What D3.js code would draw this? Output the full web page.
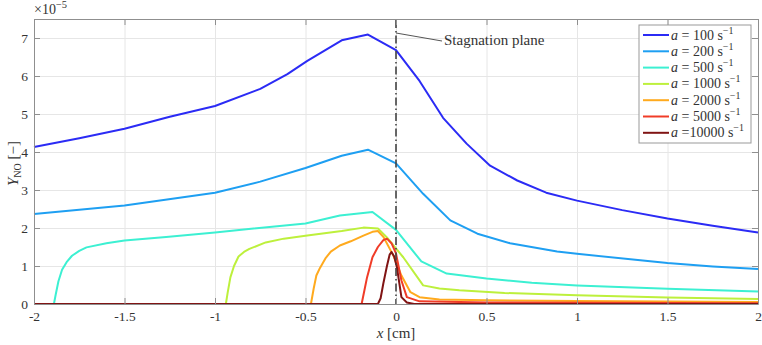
<!DOCTYPE html>
<html>
<head>
<meta charset="utf-8">
<script src="https://cdn.jsdelivr.net/npm/d3@7"></script>
<style>
  body { margin: 0; background: #fff; }
  svg text { font-family: "Liberation Serif", "DejaVu Serif", serif; fill: #333; }
</style>
</head>
<body>
<div id="chart"></div>
<script>
// values are Y_NO in units of 1e-5, x in cm
const strainRates = [100, 200, 500, 1000, 2000, 5000, 10000];
const legendLabels = ["= 100 s", "= 200 s", "= 500 s", "= 1000 s", "= 2000 s", "= 5000 s", "=10000 s"];
const colors = ["#2b2bf5", "#1e9ff2", "#3cf0d2", "#bdf03c", "#ffaa1e", "#f03c28", "#801414"];

const a100 = [[-2,4.13],[-1.75,4.36],[-1.5,4.61],[-1.25,4.93],[-1,5.21],[-0.75,5.66],[-0.6,6.05],[-0.49,6.4],[-0.3,6.94],[-0.155,7.09],[0,6.68],[0.13,5.87],[0.26,4.9],[0.39,4.22],[0.52,3.64],[0.67,3.25],[0.83,2.93],[1,2.72],[1.25,2.47],[1.5,2.25],[1.75,2.06],[2,1.88]];
const a200 = [[-2,2.37],[-1.5,2.59],[-1,2.93],[-0.75,3.22],[-0.5,3.58],[-0.3,3.9],[-0.155,4.06],[0,3.7],[0.15,2.9],[0.3,2.2],[0.45,1.85],[0.63,1.6],[0.89,1.38],[1,1.32],[1.35,1.15],[1.5,1.08],[1.75,0.99],[2,0.92]];
const a500 = [[-2,0],[-1.89,0],[-1.88,0.25],[-1.865,0.6],[-1.845,0.9],[-1.82,1.1],[-1.79,1.27],[-1.75,1.4],[-1.71,1.49],[-1.6,1.6],[-1.5,1.67],[-1.27,1.76],[-1,1.88],[-0.8,1.98],[-0.5,2.12],[-0.31,2.33],[-0.13,2.42],[0,1.95],[0.14,1.12],[0.28,0.8],[0.5,0.67],[0.75,0.56],[1,0.49],[1.5,0.4],[2,0.33]];
const a1000 = [[-2,0],[-0.94,0],[-0.93,0.3],[-0.915,0.7],[-0.895,1.0],[-0.87,1.25],[-0.84,1.37],[-0.81,1.45],[-0.72,1.62],[-0.62,1.72],[-0.49,1.8],[-0.3,1.92],[-0.18,2.01],[-0.1,1.99],[-0.05,1.75],[0.04,1.23],[0.15,0.49],[0.24,0.41],[0.35,0.36],[0.6,0.29],[1,0.23],[1.5,0.17],[2,0.13]];
const a2000 = [[-2,0],[-0.47,0],[-0.455,0.4],[-0.44,0.75],[-0.42,0.95],[-0.39,1.2],[-0.36,1.38],[-0.31,1.54],[-0.25,1.65],[-0.18,1.8],[-0.13,1.9],[-0.1,1.92],[-0.07,1.77],[-0.015,1.28],[0.03,0.75],[0.08,0.31],[0.13,0.18],[0.24,0.12],[0.5,0.1],[1,0.08],[2,0.05]];
const a5000 = [[-2,0],[-0.19,0],[-0.175,0.35],[-0.16,0.7],[-0.13,1.23],[-0.1,1.5],[-0.07,1.68],[-0.05,1.72],[-0.025,1.6],[0,1.33],[0.03,0.62],[0.06,0.18],[0.13,0.07],[0.5,0.04],[2,0.02]];
const a10000 = [[-2,0],[-0.1,0],[-0.085,0.15],[-0.07,0.54],[-0.05,1.0],[-0.035,1.3],[-0.025,1.37],[-0.01,1.25],[0.005,0.97],[0.03,0.18],[0.06,0.04],[0.1,0],[2,0]];
const series = [a100, a200, a500, a1000, a2000, a5000, a10000];

const xTicks = [-2, -1.5, -1, -0.5, 0, 0.5, 1, 1.5, 2];
const yTicks = [0, 1, 2, 3, 4, 5, 6, 7];
const stagnationX = 0;
const annotationText = "Stagnation plane";

const W = 762, H = 345;
const margin = { top: 19, right: 4, bottom: 41, left: 34 };
const width = W - margin.left - margin.right;
const height = H - margin.top - margin.bottom;
const serif = "Liberation Serif, DejaVu Serif, serif";

const svg = d3.select("#chart").append("svg")
    .attr("width", W)
    .attr("height", H);

const g = svg.append("g")
    .attr("transform", `translate(${margin.left},${margin.top})`);

const x = d3.scaleLinear().domain([-2, 2]).range([0, width]);
const y = d3.scaleLinear().domain([0, 7.5]).range([height, 0]);

// grid
g.append("g")
    .attr("transform", `translate(0,${height})`)
    .call(d3.axisBottom(x).tickValues(xTicks).tickSize(-height).tickFormat(""))
    .call(a => a.select(".domain").remove())
    .call(a => a.selectAll("line").attr("stroke", "#e6e6e6"));
g.append("g")
    .call(d3.axisLeft(y).tickValues(yTicks).tickSize(-width).tickFormat(""))
    .call(a => a.select(".domain").remove())
    .call(a => a.selectAll("line").attr("stroke", "#e6e6e6"));

// curves
const line = d3.line().x(d => x(d[0])).y(d => y(d[1]));
series.forEach((s, i) => {
    g.append("path")
        .datum(s)
        .attr("fill", "none")
        .attr("stroke", colors[i])
        .attr("stroke-width", 2)
        .attr("stroke-linejoin", "round")
        .attr("d", line);
});

// stagnation plane
g.append("line")
    .attr("x1", x(stagnationX)).attr("x2", x(stagnationX))
    .attr("y1", 1).attr("y2", height)
    .attr("stroke", "#444")
    .attr("stroke-width", 1.6)
    .attr("stroke-dasharray", "8,3,1.5,3");
g.append("line")
    .attr("x1", x(stagnationX)).attr("y1", 14)
    .attr("x2", x(stagnationX) + 46).attr("y2", 22)
    .attr("stroke", "#555")
    .attr("stroke-width", 1);
g.append("text")
    .attr("x", x(stagnationX) + 48)
    .attr("y", 26)
    .attr("font-family", serif)
    .attr("font-size", 15)
    .text(annotationText);

// axes (ticks pointing inward, box)
const styleAxis = a => {
    a.select(".domain").attr("stroke", "#8f8f8f");
    a.selectAll(".tick line").attr("stroke", "#8f8f8f");
};
g.append("g")
    .attr("transform", `translate(0,${height})`)
    .call(d3.axisBottom(x).tickValues(xTicks).tickSizeInner(-6).tickSizeOuter(0).tickPadding(7).tickFormat(d => String(d)))
    .call(styleAxis)
    .call(a => a.selectAll("text").attr("font-size", 13.5).attr("fill", "#333").attr("font-family", serif));
g.append("g")
    .call(d3.axisTop(x).tickValues(xTicks).tickSizeInner(-6).tickSizeOuter(0).tickFormat(""))
    .call(styleAxis);
g.append("g")
    .call(d3.axisLeft(y).tickValues(yTicks).tickSizeInner(-6).tickSizeOuter(0).tickPadding(6))
    .call(styleAxis)
    .call(a => a.selectAll("text").attr("font-size", 13.5).attr("fill", "#333").attr("font-family", serif));
g.append("g")
    .attr("transform", `translate(${width},0)`)
    .call(d3.axisRight(y).tickValues(yTicks).tickSizeInner(-6).tickSizeOuter(0).tickFormat(""))
    .call(styleAxis);

// exponent label
const ex = svg.append("text").attr("x", margin.left).attr("y", 14)
    .attr("font-family", serif).attr("font-size", 14);
ex.append("tspan").text("×10");
ex.append("tspan").attr("font-size", 10.5).attr("dy", -6).text("−5");

// y label
const yl = svg.append("text")
    .attr("transform", `translate(18,${margin.top + height / 2 + 2}) rotate(-90)`)
    .attr("text-anchor", "middle")
    .attr("font-family", serif)
    .attr("font-size", 15);
yl.append("tspan").attr("font-style", "italic").text("Y");
yl.append("tspan").attr("font-size", 10).attr("dy", 3).text("NO");
yl.append("tspan").attr("dy", -3).text(" [−]");

// x label
const xl = svg.append("text")
    .attr("x", margin.left + x(0))
    .attr("y", 338)
    .attr("text-anchor", "middle")
    .attr("font-family", serif)
    .attr("font-size", 15);
xl.append("tspan").attr("font-style", "italic").text("x");
xl.append("tspan").text(" [cm]");

// legend
const lg = svg.append("g").attr("transform", "translate(639,25)");
lg.append("rect")
    .attr("width", 112).attr("height", 118)
    .attr("fill", "#fff")
    .attr("stroke", "#999");
strainRates.forEach((r, i) => {
    const yy = 10 + i * 16.3;
    lg.append("line")
        .attr("x1", 4).attr("x2", 30)
        .attr("y1", yy).attr("y2", yy)
        .attr("stroke", colors[i])
        .attr("stroke-width", 2);
    const t = lg.append("text").attr("x", 32).attr("y", yy + 4.5)
        .attr("font-family", serif).attr("font-size", 14);
    t.append("tspan").attr("font-style", "italic").text("a ");
    t.append("tspan").text(legendLabels[i]);
    t.append("tspan").attr("font-size", 10).attr("dy", -6).text("−1");
});
</script>
</body>
</html>
